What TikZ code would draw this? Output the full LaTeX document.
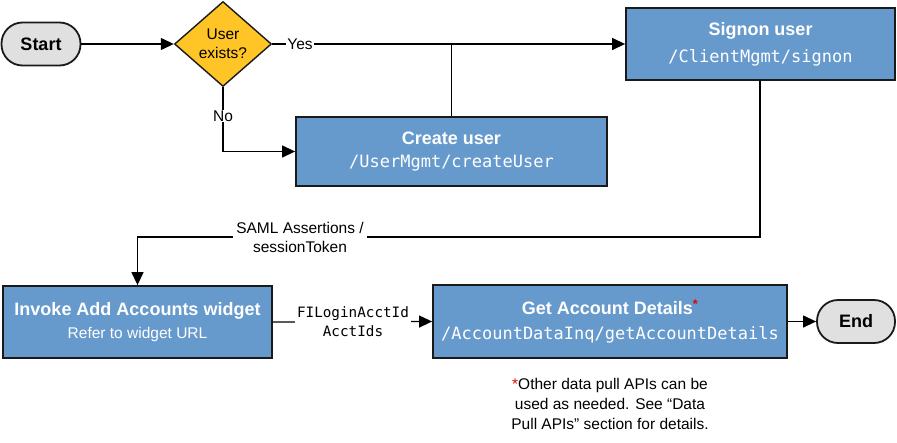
\documentclass[tikz,border=0pt]{standalone}
\usepackage{fontspec}
\setmainfont{Liberation Sans}
\newfontfamily\monof{DejaVu Sans Mono}
\usetikzlibrary{shapes.geometric,arrows.meta}
\definecolor{boxblue}{RGB}{102,153,204}
\definecolor{gold}{RGB}{255,196,37}
\definecolor{termgray}{RGB}{224,224,224}
\definecolor{edge}{RGB}{26,26,26}
\definecolor{starred}{RGB}{230,0,0}
\tikzset{
  procbox/.style={draw=edge, line width=1.8pt, fill=boxblue, text=white, align=center, inner sep=0pt},
  term/.style={draw=edge, line width=1.8pt, fill=termgray, rounded corners=21pt, inner sep=0pt,
    font=\fontsize{18}{21}\selectfont\bfseries},
  decis/.style={diamond, draw=edge, line width=1.4pt, fill=gold, inner sep=0pt, align=center,
    font=\fontsize{15.5}{19}\selectfont},
  conn/.style={draw=black, line width=1.3pt},
  arr/.style={conn, -{Triangle[length=13pt,width=12pt]}},
  lbl/.style={fill=white, inner sep=1pt, align=center, font=\fontsize{15.5}{19}\selectfont},
}
\newcommand{\ttl}[1]{{\fontsize{18}{21}\selectfont\bfseries #1}}
\newcommand{\sub}[1]{{\fontsize{17}{21}\selectfont\monof #1}}
\begin{document}
\begin{tikzpicture}[x=1pt,y=-1pt]
\useasboundingbox (0,0) rectangle (897,442);
\node[term, minimum width=79pt, minimum height=43pt] (start) at (41,44) {Start};
\node[decis, minimum width=97pt, minimum height=85pt] (dec) at (223,44) {User\\exists?};
\node[procbox, minimum width=311pt, minimum height=69pt] (create) at (451.5,151.5)
  {\ttl{Create user}\\[9pt]\sub{/UserMgmt/createUser}};
\node[procbox, minimum width=269pt, minimum height=72pt] (signon) at (760.5,44)
  {\ttl{Signon user}\\[9pt]\sub{/ClientMgmt/signon}};
\node[procbox, minimum width=269pt, minimum height=72pt] (invoke) at (137.5,322)
  {\ttl{Invoke Add Accounts widget}\\[7pt]{\fontsize{15.5}{19}\selectfont Refer to widget URL}};
\node[procbox, minimum width=354pt, minimum height=73pt] (getacc) at (610,321.5)
  {\ttl{Get Account Details\textsuperscript{\textcolor{starred}{*}}}\\[11pt]\sub{/AccountDataInq/getAccountDetails}};
\node[term, minimum width=78pt, minimum height=43pt] (end) at (856,321.5) {End};

\coordinate (sj) at (760,237);
\coordinate (ij) at (137.5,237);

\draw[arr] (start.east) -- (dec.west);
\draw[arr] (dec.east) -- (signon.west);
\draw[conn] (create.north) -- (create.north |- dec.east);
\node[lbl] (yes) at (300,44) {Yes};
\draw[arr] (dec.south) |- (create.west);
\node[lbl] (no) at (223,116) {No};
\draw[arr] (signon.south -| sj) -- (sj) -- (ij) -- (invoke.north);
\node[lbl, inner xsep=3pt] (saml) at (300,237) {SAML Assertions /\\sessionToken};
\draw[arr] (invoke.east) -- (getacc.west);
\node[lbl, font=\fontsize{14.3}{19}\selectfont\monof, inner xsep=2pt] (ids) at (353,322) {FILoginAcctId\\AcctIds};
\draw[arr] (getacc.east) -- (end.west);
\node[align=center, font=\fontsize{15.5}{20}\selectfont] (note) at (610,404)
  {\textcolor{starred}{*}Other data pull APIs can be\\used as needed. See “Data\\Pull APIs” section for details.};
\end{tikzpicture}
\end{document}
